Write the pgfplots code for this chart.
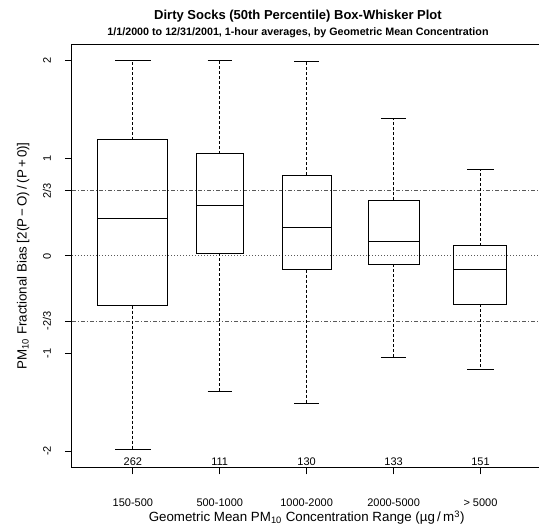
\documentclass[border=0pt]{standalone}
\usepackage{pgfplots}
\pgfplotsset{compat=1.18}
\usepgfplotslibrary{statistics}
\usepackage{fontspec}
\setmainfont{Liberation Sans}

\definecolor{refline}{gray}{0.35}

\begin{document}
\begin{tikzpicture}
\begin{axis}[
  name=ax,
  scale only axis,
  width=352pt, height=317pt,
  xmin=0.3, xmax=5.7,
  ymin=-2.1667, ymax=2.1667,
  axis line style={black, line width=0.75pt},
  tick style={black, line width=0.75pt},
  tick align=outside,
  major tick length=5.25pt,
  xtick pos=bottom, ytick pos=left,
  xtick={1,2,3,4,5},
  xticklabels={150-500,500-1000,1000-2000,2000-5000,> 5000},
  xticklabel style={font=\fontsize{8.25}{9}\selectfont, anchor=base, yshift=-24pt},
  ytick={-2,-1,-0.6667,0,0.6667,1,2},
  yticklabels={-2,-1,-2/3,0,2/3,1,2},
  yticklabel style={font=\fontsize{8.25}{9}\selectfont, rotate=90, anchor=base, yshift=10.5pt},
  clip=false,
  boxplot/draw direction=y,
  boxplot/draw/lower whisker/.code={
    \draw[dash pattern=on 2.25pt off 1.5pt]
      (boxplot cs:\pgfplotsboxplotvalue{lower quartile}) --
      (boxplot cs:\pgfplotsboxplotvalue{lower whisker});
    \draw[solid]
      (boxplot whisker cs:\pgfplotsboxplotvalue{lower whisker},0) --
      (boxplot whisker cs:\pgfplotsboxplotvalue{lower whisker},1);
  },
  boxplot/draw/upper whisker/.code={
    \draw[dash pattern=on 2.25pt off 1.5pt]
      (boxplot cs:\pgfplotsboxplotvalue{upper quartile}) --
      (boxplot cs:\pgfplotsboxplotvalue{upper whisker});
    \draw[solid]
      (boxplot whisker cs:\pgfplotsboxplotvalue{upper whisker},0) --
      (boxplot whisker cs:\pgfplotsboxplotvalue{upper whisker},1);
  },
]
% reference lines: +/- 2/3 and zero
\addplot[refline, line width=0.75pt, dash pattern=on 3pt off 1.5pt on 0.75pt off 1.5pt]
  coordinates {(0.3,0.6667) (5.7,0.6667)};
\addplot[refline, line width=0.75pt, dash pattern=on 3pt off 1.5pt on 0.75pt off 1.5pt]
  coordinates {(0.3,-0.6667) (5.7,-0.6667)};
\addplot[refline, line width=0.75pt, dash pattern=on 0.75pt off 1.5pt]
  coordinates {(0.3,0) (5.7,0)};

% box widths scale with sqrt(n)
\addplot[black, line width=0.75pt, boxplot prepared={draw position=1,
  lower whisker=-1.98, lower quartile=-0.51, median=0.38,
  upper quartile=1.19, upper whisker=2.00,
  box extend=0.805, whisker extend=0.41}] coordinates {};
\addplot[black, line width=0.75pt, boxplot prepared={draw position=2,
  lower whisker=-1.39, lower quartile=0.03, median=0.52,
  upper quartile=1.05, upper whisker=2.00,
  box extend=0.54, whisker extend=0.28}] coordinates {};
\addplot[black, line width=0.75pt, boxplot prepared={draw position=3,
  lower whisker=-1.51, lower quartile=-0.14, median=0.29,
  upper quartile=0.83, upper whisker=1.99,
  box extend=0.565, whisker extend=0.29}] coordinates {};
\addplot[black, line width=0.75pt, boxplot prepared={draw position=4,
  lower whisker=-1.04, lower quartile=-0.085, median=0.15,
  upper quartile=0.574, upper whisker=1.41,
  box extend=0.585, whisker extend=0.29}] coordinates {};
\addplot[black, line width=0.75pt, boxplot prepared={draw position=5,
  lower whisker=-1.16, lower quartile=-0.495, median=-0.137,
  upper quartile=0.103, upper whisker=0.89,
  box extend=0.61, whisker extend=0.31}] coordinates {};

% counts per class
\node[anchor=base, font=\fontsize{8.25}{9}\selectfont] at (axis cs:1,-2.144) {262};
\node[anchor=base, font=\fontsize{8.25}{9}\selectfont] at (axis cs:2,-2.144) {111};
\node[anchor=base, font=\fontsize{8.25}{9}\selectfont] at (axis cs:3,-2.144) {130};
\node[anchor=base, font=\fontsize{8.25}{9}\selectfont] at (axis cs:4,-2.144) {133};
\node[anchor=base, font=\fontsize{8.25}{9}\selectfont] at (axis cs:5,-2.144) {151};
\end{axis}

% titles and axis labels
\node[anchor=base, font=\fontsize{9.75}{11}\selectfont\bfseries]
  at ([shift={(169.5pt,335.5pt)}]ax.south west)
  {Dirty Socks (50th Percentile) Box-Whisker Plot};
\node[anchor=base, font=\fontsize{8.05}{9}\selectfont\bfseries]
  at ([shift={(169.5pt,323.5pt)}]ax.south west)
  {1/1/2000 to 12/31/2001, 1-hour averages, by Geometric Mean Concentration};
\node[anchor=base, font=\fontsize{10}{12}\selectfont]
  at ([shift={(176pt,-41pt)}]ax.south west)
  {Geometric Mean PM\textsubscript{10} Concentration Range (µg\,/\,m\textsuperscript{3})};
\node[anchor=base, rotate=90, font=\fontsize{10}{12}\selectfont]
  at ([shift={(-34pt,158.5pt)}]ax.south west)
  {PM\textsubscript{10} Fractional Bias [2(P\,−\,O)\,/\,(P\,+\,0)]};

% page extent
\pgfresetboundingbox
\path ([shift={(-54pt,-44.78pt)}]ax.south west) rectangle ([shift={(350.25pt,350.5pt)}]ax.south west);
\end{tikzpicture}
\end{document}
